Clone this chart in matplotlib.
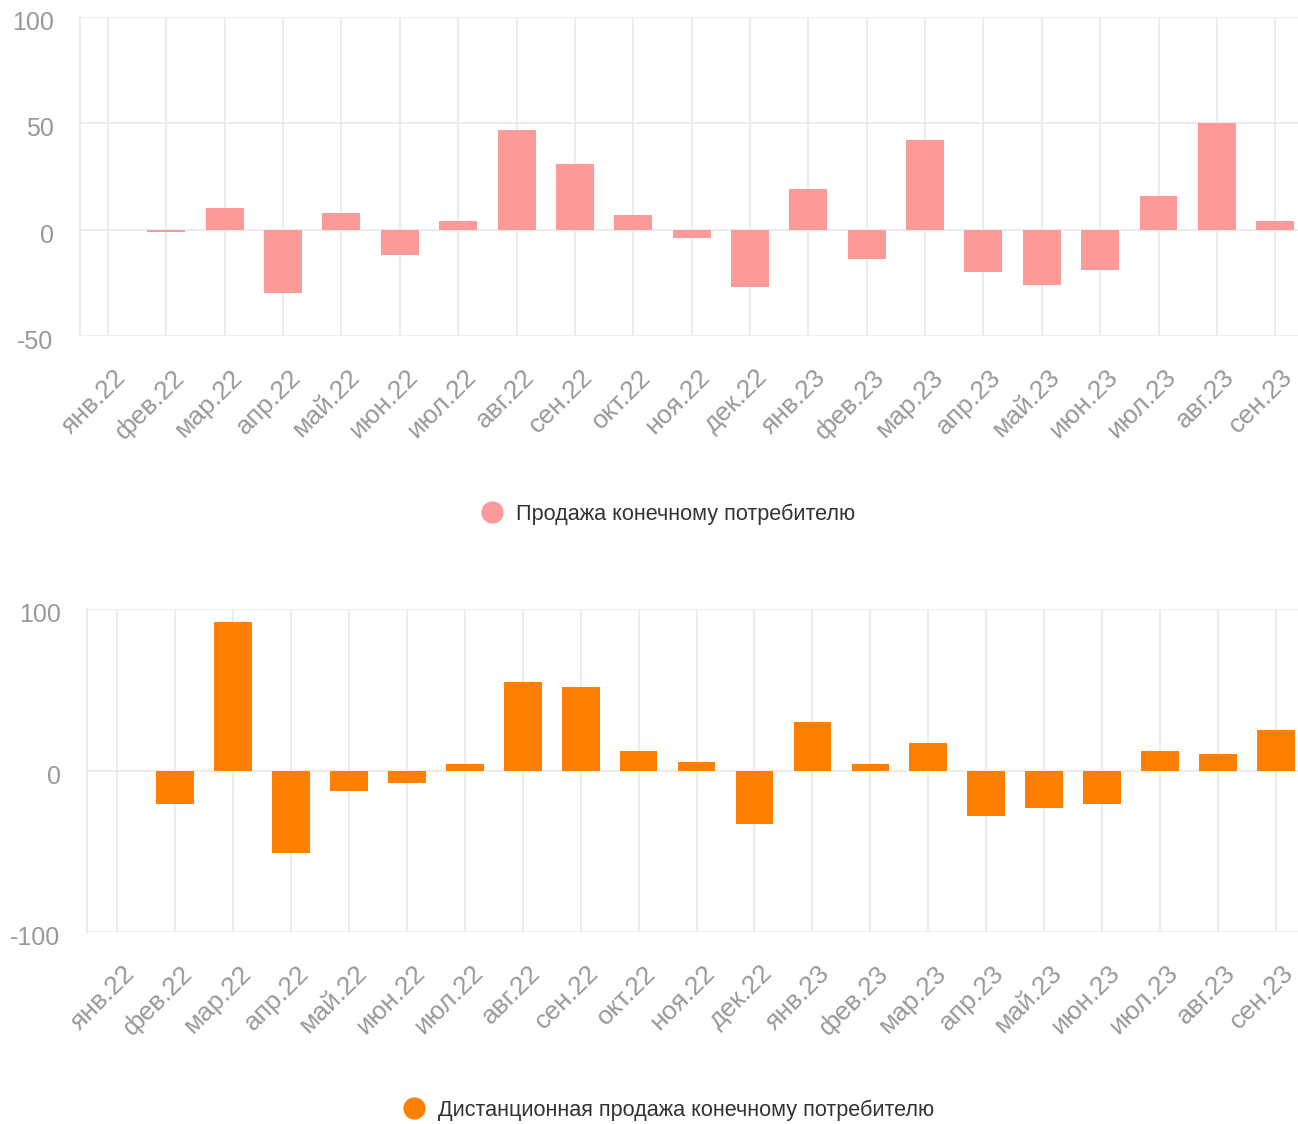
import matplotlib
matplotlib.use("Agg")
import matplotlib.pyplot as plt
from matplotlib.lines import Line2D
from matplotlib.transforms import ScaledTranslation

plt.rcParams['font.family'] = ['Liberation Sans', 'DejaVu Sans']

months = ["янв.22", "фев.22", "мар.22", "апр.22", "май.22", "июн.22", "июл.22",
          "авг.22", "сен.22", "окт.22", "ноя.22", "дек.22", "янв.23", "фев.23",
          "мар.23", "апр.23", "май.23", "июн.23", "июл.23", "авг.23", "сен.23"]

retail = [0, -1, 10, -30, 8, -12, 4, 47, 31, 7, -4, -27, 19, -14, 42, -20, -26, -19, 16, 50, 4]
remote = [0, -21, 92, -51, -13, -8, 4, 55, 52, 12, 5, -33, 30, 4, 17, -28, -23, -21, 12, 10, 25]

retail_label = "Продажа конечному потребителю"
remote_label = "Дистанционная продажа конечному потребителю"

retail_yticks = [-50, 0, 50, 100]
remote_yticks = [-100, 0, 100]

W, H = 1298, 1124
fig = plt.figure(figsize=(W / 100, H / 100), dpi=100)

GRID = "#ececec"
TICKC = "#999999"


def make_axes(left, right, top, bottom):
    return fig.add_axes([left / W, 1 - bottom / H, (right - left) / W, (bottom - top) / H])


def draw(ax, values, color, yticks, ylim, xlim, label, legend_y):
    x = list(range(len(months)))
    ax.bar(x, values, width=0.65, color=color, zorder=3, linewidth=0)
    ax.set_xlim(*xlim)
    ax.set_ylim(*ylim)
    ax.set_yticks(yticks)
    ax.set_yticklabels([str(t) for t in yticks])
    ax.set_xticks(x)
    ax.set_xticklabels(months, rotation=45, ha='right', va='center', rotation_mode='anchor')
    ax.grid(True, color=GRID, linewidth=1.5, zorder=0)
    ax.set_axisbelow(True)
    for s in ['top', 'right', 'bottom']:
        ax.spines[s].set_visible(False)
    ax.spines['left'].set_color(GRID)
    ax.spines['left'].set_linewidth(1.5)
    ax.tick_params(axis='both', length=0, colors=TICKC)
    ax.tick_params(axis='y', labelsize=18, pad=19)
    ax.tick_params(axis='x', labelsize=19, pad=27)
    for lbl in ax.get_yticklabels():
        lbl.set_transform(lbl.get_transform() + ScaledTranslation(0, -3.5 / 100, fig.dpi_scale_trans))
    for lbl in ax.get_xticklabels():
        lbl.set_transform(lbl.get_transform() + ScaledTranslation(14 / 100, 0, fig.dpi_scale_trans))
    handle = Line2D([], [], marker='o', linestyle='none', markersize=15,
                    markerfacecolor=color, markeredgecolor=color)
    fig.legend([handle], [label], loc='center', bbox_to_anchor=(663 / W, 1 - legend_y / H),
               frameon=False, fontsize=15.6, handletextpad=0.1, labelcolor='#333333',
               borderaxespad=0)


ax1 = make_axes(80, W, 17, 336)
draw(ax1, retail, "#fb9a99", retail_yticks, (-50, 100), (-0.48, 20.39), retail_label, 514)

ax2 = make_axes(87, W, 609, 932)
draw(ax2, remote, "#ff7f00", remote_yticks, (-100, 100), (-0.52, 20.38), remote_label, 1110)

fig.savefig("out.png", dpi=100)
